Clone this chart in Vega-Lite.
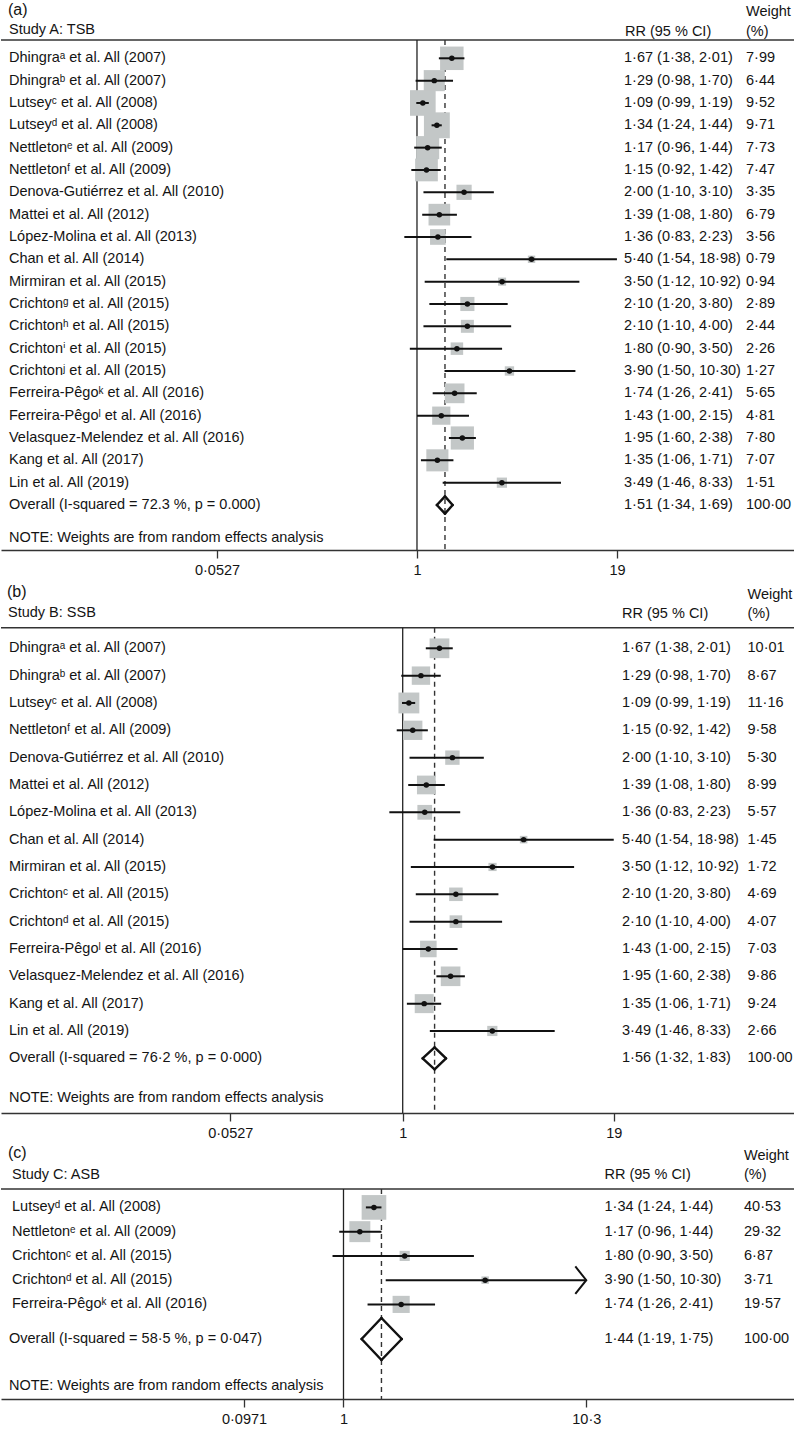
{
  "$schema": "https://vega.github.io/schema/vega-lite/v6.json",
  "padding": 0,
  "background": "white",
  "config": {
    "view": {"stroke": null},
    "locale": {"number": {"decimal": "·", "thousands": ",", "grouping": [3], "currency": ["", ""]}},
    "text": {"font": "Liberation Sans, DejaVu Sans, sans-serif", "fontSize": 14.5, "color": "#141414", "align": "left", "baseline": "middle"},
    "axisX": {"grid": false, "title": null, "tickSize": 8, "tickColor": "#333333", "tickWidth": 1.3, "domainColor": "#333333", "domainWidth": 1.5, "labelFont": "Liberation Sans, DejaVu Sans, sans-serif", "labelFontSize": 14.5, "labelColor": "#141414", "labelPadding": 5, "labelFlush": false, "labelOverlap": false}
  },
  "resolve": {"scale": {"size": "independent", "x": "independent", "y": "independent"}},
  "datasets": {
    "a": [
      {"s": "Dhingraᵃ et al. All (2007)", "k": "s", "est": 1.67, "lo": 1.38, "hi": 2.01, "w": 7.99, "ci": "1·67 (1·38, 2·01)"},
      {"s": "Dhingraᵇ et al. All (2007)", "k": "s", "est": 1.29, "lo": 0.98, "hi": 1.70, "w": 6.44, "ci": "1·29 (0·98, 1·70)"},
      {"s": "Lutseyᶜ et al. All (2008)", "k": "s", "est": 1.09, "lo": 0.99, "hi": 1.19, "w": 9.52, "ci": "1·09 (0·99, 1·19)"},
      {"s": "Lutseyᵈ et al. All (2008)", "k": "s", "est": 1.34, "lo": 1.24, "hi": 1.44, "w": 9.71, "ci": "1·34 (1·24, 1·44)"},
      {"s": "Nettletonᵉ et al. All (2009)", "k": "s", "est": 1.17, "lo": 0.96, "hi": 1.44, "w": 7.73, "ci": "1·17 (0·96, 1·44)"},
      {"s": "Nettletonᶠ et al. All (2009)", "k": "s", "est": 1.15, "lo": 0.92, "hi": 1.42, "w": 7.47, "ci": "1·15 (0·92, 1·42)"},
      {"s": "Denova-Gutiérrez et al. All (2010)", "k": "s", "est": 2.00, "lo": 1.10, "hi": 3.10, "w": 3.35, "ci": "2·00 (1·10, 3·10)"},
      {"s": "Mattei et al. All (2012)", "k": "s", "est": 1.39, "lo": 1.08, "hi": 1.80, "w": 6.79, "ci": "1·39 (1·08, 1·80)"},
      {"s": "López-Molina et al. All (2013)", "k": "s", "est": 1.36, "lo": 0.83, "hi": 2.23, "w": 3.56, "ci": "1·36 (0·83, 2·23)"},
      {"s": "Chan et al. All (2014)", "k": "s", "est": 5.40, "lo": 1.54, "hi": 18.98, "w": 0.79, "ci": "5·40 (1·54, 18·98)"},
      {"s": "Mirmiran et al. All (2015)", "k": "s", "est": 3.50, "lo": 1.12, "hi": 10.92, "w": 0.94, "ci": "3·50 (1·12, 10·92)"},
      {"s": "Crichtonᵍ et al. All (2015)", "k": "s", "est": 2.10, "lo": 1.20, "hi": 3.80, "w": 2.89, "ci": "2·10 (1·20, 3·80)"},
      {"s": "Crichtonʰ et al. All (2015)", "k": "s", "est": 2.10, "lo": 1.10, "hi": 4.00, "w": 2.44, "ci": "2·10 (1·10, 4·00)"},
      {"s": "Crichtonⁱ et al. All (2015)", "k": "s", "est": 1.80, "lo": 0.90, "hi": 3.50, "w": 2.26, "ci": "1·80 (0·90, 3·50)"},
      {"s": "Crichtonʲ et al. All (2015)", "k": "s", "est": 3.90, "lo": 1.50, "hi": 10.30, "w": 1.27, "ci": "3·90 (1·50, 10·30)"},
      {"s": "Ferreira-Pêgoᵏ et al. All (2016)", "k": "s", "est": 1.74, "lo": 1.26, "hi": 2.41, "w": 5.65, "ci": "1·74 (1·26, 2·41)"},
      {"s": "Ferreira-Pêgoˡ et al. All (2016)", "k": "s", "est": 1.43, "lo": 1.00, "hi": 2.15, "w": 4.81, "ci": "1·43 (1·00, 2·15)"},
      {"s": "Velasquez-Melendez et al. All (2016)", "k": "s", "est": 1.95, "lo": 1.60, "hi": 2.38, "w": 7.80, "ci": "1·95 (1·60, 2·38)"},
      {"s": "Kang et al. All (2017)", "k": "s", "est": 1.35, "lo": 1.06, "hi": 1.71, "w": 7.07, "ci": "1·35 (1·06, 1·71)"},
      {"s": "Lin et al. All (2019)", "k": "s", "est": 3.49, "lo": 1.46, "hi": 8.33, "w": 1.51, "ci": "3·49 (1·46, 8·33)"},
      {"s": "Overall (I-squared = 72.3 %, p = 0.000)", "k": "o", "est": 1.51, "lo": 1.34, "hi": 1.69, "w": 100.00, "ci": "1·51 (1·34, 1·69)"}
    ],
    "b": [
      {"s": "Dhingraᵃ et al. All (2007)", "k": "s", "est": 1.67, "lo": 1.38, "hi": 2.01, "w": 10.01, "ci": "1·67 (1·38, 2·01)"},
      {"s": "Dhingraᵇ et al. All (2007)", "k": "s", "est": 1.29, "lo": 0.98, "hi": 1.70, "w": 8.67, "ci": "1·29 (0·98, 1·70)"},
      {"s": "Lutseyᶜ et al. All (2008)", "k": "s", "est": 1.09, "lo": 0.99, "hi": 1.19, "w": 11.16, "ci": "1·09 (0·99, 1·19)"},
      {"s": "Nettletonᶠ et al. All (2009)", "k": "s", "est": 1.15, "lo": 0.92, "hi": 1.42, "w": 9.58, "ci": "1·15 (0·92, 1·42)"},
      {"s": "Denova-Gutiérrez et al. All (2010)", "k": "s", "est": 2.00, "lo": 1.10, "hi": 3.10, "w": 5.30, "ci": "2·00 (1·10, 3·10)"},
      {"s": "Mattei et al. All (2012)", "k": "s", "est": 1.39, "lo": 1.08, "hi": 1.80, "w": 8.99, "ci": "1·39 (1·08, 1·80)"},
      {"s": "López-Molina et al. All (2013)", "k": "s", "est": 1.36, "lo": 0.83, "hi": 2.23, "w": 5.57, "ci": "1·36 (0·83, 2·23)"},
      {"s": "Chan et al. All (2014)", "k": "s", "est": 5.40, "lo": 1.54, "hi": 18.98, "w": 1.45, "ci": "5·40 (1·54, 18·98)"},
      {"s": "Mirmiran et al. All (2015)", "k": "s", "est": 3.50, "lo": 1.12, "hi": 10.92, "w": 1.72, "ci": "3·50 (1·12, 10·92)"},
      {"s": "Crichtonᶜ et al. All (2015)", "k": "s", "est": 2.10, "lo": 1.20, "hi": 3.80, "w": 4.69, "ci": "2·10 (1·20, 3·80)"},
      {"s": "Crichtonᵈ et al. All (2015)", "k": "s", "est": 2.10, "lo": 1.10, "hi": 4.00, "w": 4.07, "ci": "2·10 (1·10, 4·00)"},
      {"s": "Ferreira-Pêgoˡ et al. All (2016)", "k": "s", "est": 1.43, "lo": 1.00, "hi": 2.15, "w": 7.03, "ci": "1·43 (1·00, 2·15)"},
      {"s": "Velasquez-Melendez et al. All (2016)", "k": "s", "est": 1.95, "lo": 1.60, "hi": 2.38, "w": 9.86, "ci": "1·95 (1·60, 2·38)"},
      {"s": "Kang et al. All (2017)", "k": "s", "est": 1.35, "lo": 1.06, "hi": 1.71, "w": 9.24, "ci": "1·35 (1·06, 1·71)"},
      {"s": "Lin et al. All (2019)", "k": "s", "est": 3.49, "lo": 1.46, "hi": 8.33, "w": 2.66, "ci": "3·49 (1·46, 8·33)"},
      {"s": "Overall (I-squared = 76·2 %, p = 0·000)", "k": "o", "est": 1.56, "lo": 1.32, "hi": 1.83, "w": 100.00, "ci": "1·56 (1·32, 1·83)"}
    ],
    "c": [
      {"s": "Lutseyᵈ et al. All (2008)", "k": "s", "est": 1.34, "lo": 1.24, "hi": 1.44, "w": 40.53, "ci": "1·34 (1·24, 1·44)"},
      {"s": "Nettletonᵉ et al. All (2009)", "k": "s", "est": 1.17, "lo": 0.96, "hi": 1.44, "w": 29.32, "ci": "1·17 (0·96, 1·44)"},
      {"s": "Crichtonᶜ et al. All (2015)", "k": "s", "est": 1.80, "lo": 0.90, "hi": 3.50, "w": 6.87, "ci": "1·80 (0·90, 3·50)"},
      {"s": "Crichtonᵈ et al. All (2015)", "k": "s", "est": 3.90, "lo": 1.50, "hi": 10.30, "w": 3.71, "ci": "3·90 (1·50, 10·30)"},
      {"s": "Ferreira-Pêgoᵏ et al. All (2016)", "k": "s", "est": 1.74, "lo": 1.26, "hi": 2.41, "w": 19.57, "ci": "1·74 (1·26, 2·41)"},
      {"s": "Overall (I-squared = 58·5 %, p = 0·047)", "k": "o", "est": 1.44, "lo": 1.19, "hi": 1.75, "w": 100.00, "ci": "1·44 (1·19, 1·75)"}
    ]
  },
  "vconcat": [
    {
      "width": 794, "height": 550,
      "data": {"name": "a"},
      "encoding": {"y": {"field": "s", "type": "nominal", "axis": null, "scale": {"type": "point", "padding": 0, "range": [58.3, 505], "domain": ["Dhingraᵃ et al. All (2007)", "Dhingraᵇ et al. All (2007)", "Lutseyᶜ et al. All (2008)", "Lutseyᵈ et al. All (2008)", "Nettletonᵉ et al. All (2009)", "Nettletonᶠ et al. All (2009)", "Denova-Gutiérrez et al. All (2010)", "Mattei et al. All (2012)", "López-Molina et al. All (2013)", "Chan et al. All (2014)", "Mirmiran et al. All (2015)", "Crichtonᵍ et al. All (2015)", "Crichtonʰ et al. All (2015)", "Crichtonⁱ et al. All (2015)", "Crichtonʲ et al. All (2015)", "Ferreira-Pêgoᵏ et al. All (2016)", "Ferreira-Pêgoˡ et al. All (2016)", "Velasquez-Melendez et al. All (2016)", "Kang et al. All (2017)", "Lin et al. All (2019)", "Overall (I-squared = 72.3 %, p = 0.000)"]}}},
      "layer": [
        {"data": {"values": [{}]}, "mark": {"type": "rule", "yOffset": -18.3, "color": "#333333", "strokeWidth": 1.5}, "encoding": {"y": {"datum": "Dhingraᵃ et al. All (2007)", "axis": null}}},
        {"data": {"values": [{}]}, "mark": {"type": "rule", "yOffset": -18.3, "color": "#222222", "strokeWidth": 1.3}, "encoding": {"x": {"datum": 1, "type": "quantitative", "scale": {"type": "log", "domain": [0.002191, 261.0], "nice": false}, "axis": {"values": [0.0527, 1, 19], "labelExpr": "replace(format(datum.value, '.4~r'), '.', '·')"}}, "y": {"datum": "Dhingraᵃ et al. All (2007)", "axis": null}, "y2": {"value": "height"}}},
        {"transform": [{"filter": "datum.k == 'o'"}], "mark": {"type": "rule", "yOffset": -18.3, "color": "#333333", "strokeWidth": 1.4, "strokeDash": [5, 4]}, "encoding": {"x": {"field": "est", "type": "quantitative"}, "y": {"datum": "Dhingraᵃ et al. All (2007)", "axis": null}, "y2": {"value": "height"}}},
        {"transform": [{"filter": "datum.k == 's'"}], "mark": {"type": "square", "color": "#c3c7c7", "opacity": 1}, "encoding": {"x": {"field": "est", "type": "quantitative"}, "size": {"field": "w", "type": "quantitative", "scale": {"domain": [0, 10], "range": [0, 690]}, "legend": null}}},
        {"transform": [{"filter": "datum.k == 's'"}], "mark": {"type": "rule", "color": "#111111", "strokeWidth": 2}, "encoding": {"x": {"field": "lo", "type": "quantitative"}, "x2": {"field": "hi"}}},
        {"transform": [{"filter": "datum.k == 's'"}], "mark": {"type": "circle", "color": "#111111", "size": 30, "opacity": 1}, "encoding": {"x": {"field": "est", "type": "quantitative"}}},
        {"transform": [{"filter": "datum.k == 'o'"}], "mark": {"type": "rule", "color": "#111111", "strokeWidth": 2.5, "strokeCap": "round", "yOffset": 0, "y2Offset": -8.7}, "encoding": {"x": {"field": "lo", "type": "quantitative"}, "x2": {"field": "est"}, "y2": {"field": "s"}}},
        {"transform": [{"filter": "datum.k == 'o'"}], "mark": {"type": "rule", "color": "#111111", "strokeWidth": 2.5, "strokeCap": "round", "yOffset": -8.7, "y2Offset": 0}, "encoding": {"x": {"field": "est", "type": "quantitative"}, "x2": {"field": "hi"}, "y2": {"field": "s"}}},
        {"transform": [{"filter": "datum.k == 'o'"}], "mark": {"type": "rule", "color": "#111111", "strokeWidth": 2.5, "strokeCap": "round", "yOffset": 0, "y2Offset": 8.7}, "encoding": {"x": {"field": "hi", "type": "quantitative"}, "x2": {"field": "est"}, "y2": {"field": "s"}}},
        {"transform": [{"filter": "datum.k == 'o'"}], "mark": {"type": "rule", "color": "#111111", "strokeWidth": 2.5, "strokeCap": "round", "yOffset": 8.7, "y2Offset": 0}, "encoding": {"x": {"field": "est", "type": "quantitative"}, "x2": {"field": "lo"}, "y2": {"field": "s"}}},
        {"mark": {"type": "text"}, "encoding": {"x": {"value": 8}, "text": {"field": "s"}}},
        {"mark": {"type": "text"}, "encoding": {"x": {"value": 623}, "text": {"field": "ci"}}},
        {"mark": {"type": "text"}, "encoding": {"x": {"value": 745}, "text": {"field": "w", "type": "quantitative", "format": ".2f"}}},
        {"data": {"values": [{}]}, "mark": {"type": "text", "text": "(a)", "fontSize": 16, "dy": -48.3}, "encoding": {"x": {"value": 7}, "y": {"datum": "Dhingraᵃ et al. All (2007)", "axis": null}}},
        {"data": {"values": [{}]}, "mark": {"type": "text", "text": "Study A: TSB", "dy": -28.3}, "encoding": {"x": {"value": 8}, "y": {"datum": "Dhingraᵃ et al. All (2007)", "axis": null}}},
        {"data": {"values": [{}]}, "mark": {"type": "text", "text": "RR (95 % CI)", "dy": -26.8}, "encoding": {"x": {"value": 624}, "y": {"datum": "Dhingraᵃ et al. All (2007)", "axis": null}}},
        {"data": {"values": [{}]}, "mark": {"type": "text", "text": "Weight", "dy": -46.8}, "encoding": {"x": {"value": 745}, "y": {"datum": "Dhingraᵃ et al. All (2007)", "axis": null}}},
        {"data": {"values": [{}]}, "mark": {"type": "text", "text": "(%)", "dy": -26.8}, "encoding": {"x": {"value": 745}, "y": {"datum": "Dhingraᵃ et al. All (2007)", "axis": null}}},
        {"data": {"values": [{}]}, "mark": {"type": "text", "text": "NOTE: Weights are from random effects analysis", "dy": 33.3}, "encoding": {"x": {"value": 8}, "y": {"datum": "Overall (I-squared = 72.3 %, p = 0.000)", "axis": null}}}
      ]
    },
    {
      "width": 794, "height": 533,
      "data": {"name": "b"},
      "encoding": {"y": {"field": "s", "type": "nominal", "axis": null, "scale": {"type": "point", "padding": 0, "range": [68.3, 478.3], "domain": ["Dhingraᵃ et al. All (2007)", "Dhingraᵇ et al. All (2007)", "Lutseyᶜ et al. All (2008)", "Nettletonᶠ et al. All (2009)", "Denova-Gutiérrez et al. All (2010)", "Mattei et al. All (2012)", "López-Molina et al. All (2013)", "Chan et al. All (2014)", "Mirmiran et al. All (2015)", "Crichtonᶜ et al. All (2015)", "Crichtonᵈ et al. All (2015)", "Ferreira-Pêgoˡ et al. All (2016)", "Velasquez-Melendez et al. All (2016)", "Kang et al. All (2017)", "Lin et al. All (2019)", "Overall (I-squared = 76·2 %, p = 0·000)"]}}},
      "layer": [
        {"data": {"values": [{}]}, "mark": {"type": "rule", "yOffset": -20.6, "color": "#333333", "strokeWidth": 1.5}, "encoding": {"y": {"datum": "Dhingraᵃ et al. All (2007)", "axis": null}}},
        {"data": {"values": [{}]}, "mark": {"type": "rule", "yOffset": -20.6, "color": "#222222", "strokeWidth": 1.3}, "encoding": {"x": {"datum": 1, "type": "quantitative", "scale": {"type": "log", "domain": [0.003688, 237.8], "nice": false}, "axis": {"values": [0.0903, 1, 19], "labelExpr": "datum.value < 0.5 ? '0·0527' : replace(format(datum.value, '~r'), '.', '·')"}}, "y": {"datum": "Dhingraᵃ et al. All (2007)", "axis": null}, "y2": {"value": "height"}}},
        {"transform": [{"filter": "datum.k == 'o'"}], "mark": {"type": "rule", "yOffset": -20.6, "color": "#333333", "strokeWidth": 1.4, "strokeDash": [5, 4]}, "encoding": {"x": {"field": "est", "type": "quantitative"}, "y": {"datum": "Dhingraᵃ et al. All (2007)", "axis": null}, "y2": {"value": "height"}}},
        {"transform": [{"filter": "datum.k == 's'"}], "mark": {"type": "square", "color": "#c3c7c7", "opacity": 1}, "encoding": {"x": {"field": "est", "type": "quantitative"}, "size": {"field": "w", "type": "quantitative", "scale": {"domain": [0, 10], "range": [0, 390]}, "legend": null}}},
        {"transform": [{"filter": "datum.k == 's'"}], "mark": {"type": "rule", "color": "#111111", "strokeWidth": 2}, "encoding": {"x": {"field": "lo", "type": "quantitative"}, "x2": {"field": "hi"}}},
        {"transform": [{"filter": "datum.k == 's'"}], "mark": {"type": "circle", "color": "#111111", "size": 30, "opacity": 1}, "encoding": {"x": {"field": "est", "type": "quantitative"}}},
        {"transform": [{"filter": "datum.k == 'o'"}], "mark": {"type": "rule", "color": "#111111", "strokeWidth": 2.5, "strokeCap": "round", "yOffset": 0, "y2Offset": -11}, "encoding": {"x": {"field": "lo", "type": "quantitative"}, "x2": {"field": "est"}, "y2": {"field": "s"}}},
        {"transform": [{"filter": "datum.k == 'o'"}], "mark": {"type": "rule", "color": "#111111", "strokeWidth": 2.5, "strokeCap": "round", "yOffset": -11, "y2Offset": 0}, "encoding": {"x": {"field": "est", "type": "quantitative"}, "x2": {"field": "hi"}, "y2": {"field": "s"}}},
        {"transform": [{"filter": "datum.k == 'o'"}], "mark": {"type": "rule", "color": "#111111", "strokeWidth": 2.5, "strokeCap": "round", "yOffset": 0, "y2Offset": 11}, "encoding": {"x": {"field": "hi", "type": "quantitative"}, "x2": {"field": "est"}, "y2": {"field": "s"}}},
        {"transform": [{"filter": "datum.k == 'o'"}], "mark": {"type": "rule", "color": "#111111", "strokeWidth": 2.5, "strokeCap": "round", "yOffset": 11, "y2Offset": 0}, "encoding": {"x": {"field": "est", "type": "quantitative"}, "x2": {"field": "lo"}, "y2": {"field": "s"}}},
        {"mark": {"type": "text"}, "encoding": {"x": {"value": 8}, "text": {"field": "s"}}},
        {"mark": {"type": "text"}, "encoding": {"x": {"value": 621}, "text": {"field": "ci"}}},
        {"mark": {"type": "text"}, "encoding": {"x": {"value": 746.5}, "text": {"field": "w", "type": "quantitative", "format": ".2f"}}},
        {"data": {"values": [{}]}, "mark": {"type": "text", "text": "(b)", "fontSize": 16, "dy": -56.6}, "encoding": {"x": {"value": 6}, "y": {"datum": "Dhingraᵃ et al. All (2007)", "axis": null}}},
        {"data": {"values": [{}]}, "mark": {"type": "text", "text": "Study B: SSB", "dy": -35.3}, "encoding": {"x": {"value": 7}, "y": {"datum": "Dhingraᵃ et al. All (2007)", "axis": null}}},
        {"data": {"values": [{}]}, "mark": {"type": "text", "text": "RR (95 % CI)", "dy": -34.3}, "encoding": {"x": {"value": 621}, "y": {"datum": "Dhingraᵃ et al. All (2007)", "axis": null}}},
        {"data": {"values": [{}]}, "mark": {"type": "text", "text": "Weight", "dy": -53.3}, "encoding": {"x": {"value": 746.5}, "y": {"datum": "Dhingraᵃ et al. All (2007)", "axis": null}}},
        {"data": {"values": [{}]}, "mark": {"type": "text", "text": "(%)", "dy": -34.3}, "encoding": {"x": {"value": 746.5}, "y": {"datum": "Dhingraᵃ et al. All (2007)", "axis": null}}},
        {"data": {"values": [{}]}, "mark": {"type": "text", "text": "NOTE: Weights are from random effects analysis", "dy": 40}, "encoding": {"x": {"value": 8}, "y": {"datum": "Overall (I-squared = 76·2 %, p = 0·000)", "axis": null}}}
      ]
    },
    {
      "width": 794, "height": 256,
      "data": {"name": "c"},
      "encoding": {"y": {"field": "s", "type": "nominal", "axis": null, "scale": {"type": "point", "padding": 0, "range": [64.4, 185.65], "domain": ["Lutseyᵈ et al. All (2008)", "Nettletonᵉ et al. All (2009)", "Crichtonᶜ et al. All (2015)", "Crichtonᵈ et al. All (2015)", "Ferreira-Pêgoᵏ et al. All (2016)", "Overall (I-squared = 58·5 %, p = 0·047)"]}}},
      "layer": [
        {"data": {"values": [{}]}, "mark": {"type": "rule", "yOffset": -18.4, "color": "#333333", "strokeWidth": 1.5}, "encoding": {"y": {"datum": "Lutseyᵈ et al. All (2008)", "axis": null}}},
        {"data": {"values": [{}]}, "mark": {"type": "rule", "yOffset": -18.4, "color": "#222222", "strokeWidth": 1.3}, "encoding": {"x": {"datum": 1, "type": "quantitative", "scale": {"type": "log", "domain": [0.03725, 76.5], "nice": false}, "axis": {"values": [0.3845, 1, 10.3], "labelExpr": "datum.value < 0.5 ? '0·0971' : replace(format(datum.value, '~r'), '.', '·')"}}, "y": {"datum": "Lutseyᵈ et al. All (2008)", "axis": null}, "y2": {"value": "height"}}},
        {"transform": [{"filter": "datum.k == 'o'"}], "mark": {"type": "rule", "yOffset": -18.4, "color": "#333333", "strokeWidth": 1.4, "strokeDash": [5, 4]}, "encoding": {"x": {"field": "est", "type": "quantitative"}, "y": {"datum": "Lutseyᵈ et al. All (2008)", "axis": null}, "y2": {"value": "height"}}},
        {"transform": [{"filter": "datum.k == 's'"}], "mark": {"type": "square", "color": "#c3c7c7", "opacity": 1}, "encoding": {"x": {"field": "est", "type": "quantitative"}, "size": {"field": "w", "type": "quantitative", "scale": {"domain": [0, 10], "range": [0, 150]}, "legend": null}}},
        {"transform": [{"filter": "datum.k == 's'"}], "mark": {"type": "rule", "color": "#111111", "strokeWidth": 2}, "encoding": {"x": {"field": "lo", "type": "quantitative"}, "x2": {"field": "hi"}}},
        {"transform": [{"filter": "datum.k == 's'"}], "mark": {"type": "circle", "color": "#111111", "size": 30, "opacity": 1}, "encoding": {"x": {"field": "est", "type": "quantitative"}}},
        {"transform": [{"filter": "datum.k == 's' && datum.hi >= 10.3"}], "mark": {"type": "point", "shape": "M-0.8,-1L0,0L-0.8,1", "filled": false, "color": "#111111", "strokeWidth": 2, "size": 750, "opacity": 1}, "encoding": {"x": {"field": "hi", "type": "quantitative"}}},
        {"transform": [{"filter": "datum.k == 'o'"}], "mark": {"type": "rule", "color": "#111111", "strokeWidth": 2.5, "strokeCap": "round", "yOffset": 10.35, "y2Offset": -10.65}, "encoding": {"x": {"field": "lo", "type": "quantitative"}, "x2": {"field": "est"}, "y2": {"field": "s"}}},
        {"transform": [{"filter": "datum.k == 'o'"}], "mark": {"type": "rule", "color": "#111111", "strokeWidth": 2.5, "strokeCap": "round", "yOffset": -10.65, "y2Offset": 10.35}, "encoding": {"x": {"field": "est", "type": "quantitative"}, "x2": {"field": "hi"}, "y2": {"field": "s"}}},
        {"transform": [{"filter": "datum.k == 'o'"}], "mark": {"type": "rule", "color": "#111111", "strokeWidth": 2.5, "strokeCap": "round", "yOffset": 10.35, "y2Offset": 31.35}, "encoding": {"x": {"field": "hi", "type": "quantitative"}, "x2": {"field": "est"}, "y2": {"field": "s"}}},
        {"transform": [{"filter": "datum.k == 'o'"}], "mark": {"type": "rule", "color": "#111111", "strokeWidth": 2.5, "strokeCap": "round", "yOffset": 31.35, "y2Offset": 10.35}, "encoding": {"x": {"field": "est", "type": "quantitative"}, "x2": {"field": "lo"}, "y2": {"field": "s"}}},
        {"transform": [{"filter": "datum.k == 's'"}], "mark": {"type": "text"}, "encoding": {"x": {"value": 11}, "text": {"field": "s"}}},
        {"transform": [{"filter": "datum.k == 's'"}], "mark": {"type": "text"}, "encoding": {"x": {"value": 603.5}, "text": {"field": "ci"}}},
        {"transform": [{"filter": "datum.k == 's'"}], "mark": {"type": "text"}, "encoding": {"x": {"value": 743}, "text": {"field": "w", "type": "quantitative", "format": ".2f"}}},
        {"transform": [{"filter": "datum.k == 'o'"}], "mark": {"type": "text", "dy": 10.35}, "encoding": {"x": {"value": 8}, "text": {"field": "s"}}},
        {"transform": [{"filter": "datum.k == 'o'"}], "mark": {"type": "text", "dy": 10.35}, "encoding": {"x": {"value": 603.5}, "text": {"field": "ci"}}},
        {"transform": [{"filter": "datum.k == 'o'"}], "mark": {"type": "text", "dy": 10.35}, "encoding": {"x": {"value": 743}, "text": {"field": "w", "type": "quantitative", "format": ".2f"}}},
        {"data": {"values": [{}]}, "mark": {"type": "text", "text": "(c)", "fontSize": 16, "dy": -54.7}, "encoding": {"x": {"value": 7}, "y": {"datum": "Lutseyᵈ et al. All (2008)", "axis": null}}},
        {"data": {"values": [{}]}, "mark": {"type": "text", "text": "Study C: ASB", "dy": -32.7}, "encoding": {"x": {"value": 11}, "y": {"datum": "Lutseyᵈ et al. All (2008)", "axis": null}}},
        {"data": {"values": [{}]}, "mark": {"type": "text", "text": "RR (95 % CI)", "dy": -32.7}, "encoding": {"x": {"value": 603.5}, "y": {"datum": "Lutseyᵈ et al. All (2008)", "axis": null}}},
        {"data": {"values": [{}]}, "mark": {"type": "text", "text": "Weight", "dy": -51}, "encoding": {"x": {"value": 743}, "y": {"datum": "Lutseyᵈ et al. All (2008)", "axis": null}}},
        {"data": {"values": [{}]}, "mark": {"type": "text", "text": "(%)", "dy": -32.7}, "encoding": {"x": {"value": 743}, "y": {"datum": "Lutseyᵈ et al. All (2008)", "axis": null}}},
        {"data": {"values": [{}]}, "mark": {"type": "text", "text": "NOTE: Weights are from random effects analysis", "dy": 57.75}, "encoding": {"x": {"value": 8}, "y": {"datum": "Overall (I-squared = 58·5 %, p = 0·047)", "axis": null}}}
      ]
    }
  ],
  "spacing": 30,
  "bounds": "flush"
}
